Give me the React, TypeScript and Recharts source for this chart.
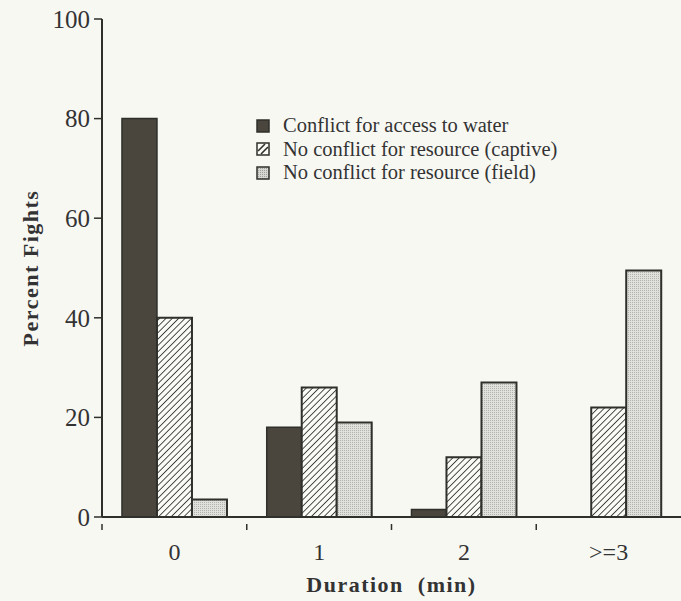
import React from 'react';
import { BarChart, Bar, XAxis, YAxis, Legend, Label } from 'recharts';

const categories = ['0', '1', '2', '>=3'];
const conflictWater = [80, 18, 1.5, 0];
const captiveNoConflict = [40, 26, 12, 22];
const fieldNoConflict = [3.5, 19, 27, 49.5];
const yTicks = [0, 20, 40, 60, 80, 100];
const seriesNames = [
  'Conflict for access to water',
  'No conflict for resource (captive)',
  'No conflict for resource (field)',
];

const data = categories.map((c, i) => ({
  cat: c,
  water: conflictWater[i],
  captive: captiveNoConflict[i],
  field: fieldNoConflict[i],
}));

const FONT = "'Liberation Serif', 'Times New Roman', serif";
const INK = '#2f2f2b';
const DARK_FILL = '#4a463d';

const XTick = (props: any) => {
  const { x, y, payload } = props;
  const off = payload && typeof payload.offset === 'number' ? payload.offset : 72.4;
  return (
    <g>
      <line x1={x - off} y1={y - 1} x2={x - off} y2={y + 5} stroke={INK} strokeWidth={1.5} />
      <text x={x} y={y + 27} textAnchor="middle" dominantBaseline="central" fontFamily={FONT} fontSize={24} fill="#333">
        {payload.value}
      </text>
    </g>
  );
};

const Swatch = ({ kind }: { kind: number }) => (
  <svg width={14} height={14} style={{ display: 'block' }}>
    <defs>
      <pattern id={`lg-stip`} patternUnits="userSpaceOnUse" width={2} height={2}>
        <rect width={2} height={2} fill="#d6d6d2" />
        <rect width={1} height={1} fill="#a0a09c" />
      </pattern>
    </defs>
    <rect
      x={1}
      y={1}
      width={12}
      height={12}
      fill={kind === 0 ? DARK_FILL : kind === 1 ? '#fafaf6' : 'url(#lg-stip)'}
      stroke={INK}
      strokeWidth={1.5}
    />
    {kind === 1 && (
      <g stroke={INK} strokeWidth={1.6}>
        <line x1={2} y1={9} x2={9} y2={2} />
        <line x1={5} y1={12} x2={12} y2={5} />
      </g>
    )}
  </svg>
);

const renderLegend = () => (
  <div style={{ fontFamily: FONT, fontSize: 20.5, color: '#333' }}>
    {seriesNames.map((n, i) => (
      <div key={n} style={{ display: 'flex', alignItems: 'center', height: 23.5 }}>
        <Swatch kind={i} />
        <span style={{ marginLeft: 13, whiteSpace: 'nowrap' }}>{n}</span>
      </div>
    ))}
  </div>
);

const YTitle = (props: any) => {
  const vb = props.viewBox || { x: 0, y: 19, width: 102, height: 498 };
  const cx = vb.x + 30;
  const cy = vb.y + vb.height / 2;
  return (
    <text
      x={cx}
      y={cy}
      transform={`rotate(-90, ${cx}, ${cy})`}
      textAnchor="middle"
      dominantBaseline="central"
      fontFamily={FONT}
      fontWeight="bold"
      fontSize={22}
      letterSpacing={1.5}
      fill="#333"
    >
      Percent Fights
    </text>
  );
};

const XTitle = (props: any) => {
  const vb = props.viewBox || { x: 102, y: 517, width: 579, height: 84 };
  return (
    <text
      x={vb.x + vb.width / 2}
      y={vb.y + 67}
      textAnchor="middle"
      dominantBaseline="central"
      fontFamily={FONT}
      fontWeight="bold"
      fontSize={22}
      letterSpacing={1.5}
      fill="#333"
      style={{ whiteSpace: 'pre' }}
    >
      {'Duration  (min)'}
    </text>
  );
};

export default function App() {
  return (
    <div style={{ position: 'absolute', left: 0, top: 0, width: 681, height: 601, background: '#f8f8f3' }}>
      <BarChart
        width={681}
        height={601}
        data={data}
        margin={{ top: 19, right: 0, bottom: 0, left: 0 }}
        barCategoryGap="13.8%"
        barGap={0}
      >
        <defs>
          <pattern id="hatch" patternUnits="userSpaceOnUse" width={4.5} height={4.5} patternTransform="rotate(45)">
            <rect width={4.5} height={4.5} fill="#fafaf6" />
            <line x1={0} y1={0} x2={0} y2={4.5} stroke={INK} strokeWidth={1.7} />
          </pattern>
          <pattern id="stipple" patternUnits="userSpaceOnUse" width={2} height={2}>
            <rect width={2} height={2} fill="#e0e0dc" />
            <rect width={1} height={1} fill="#b2b2ae" />
          </pattern>
        </defs>
        <XAxis
          dataKey="cat"
          height={84}
          axisLine={{ stroke: INK, strokeWidth: 2 }}
          tickLine={false}
          tick={<XTick />}
          interval={0}
        >
          <Label content={<XTitle />} />
        </XAxis>
        <YAxis
          width={102}
          domain={[0, 100]}
          ticks={yTicks}
          tickSize={8}
          tickMargin={4}
          axisLine={{ stroke: INK, strokeWidth: 2 }}
          tickLine={{ stroke: INK, strokeWidth: 1.5 }}
          tick={{ fontFamily: FONT, fontSize: 25, fill: '#333' }}
        >
          <Label content={<YTitle />} />
        </YAxis>
        <Legend
          content={renderLegend}
          layout="vertical"
          align="center"
          verticalAlign="middle"
          wrapperStyle={{ left: 256, top: 114, width: 340, height: 72 }}
        />
        <Bar dataKey="water" name={seriesNames[0]} fill={DARK_FILL} stroke={INK} strokeWidth={1.5} isAnimationActive={false} />
        <Bar dataKey="captive" name={seriesNames[1]} fill="url(#hatch)" stroke={INK} strokeWidth={2} isAnimationActive={false} />
        <Bar dataKey="field" name={seriesNames[2]} fill="url(#stipple)" stroke={INK} strokeWidth={2} isAnimationActive={false} />
      </BarChart>
    </div>
  );
}
